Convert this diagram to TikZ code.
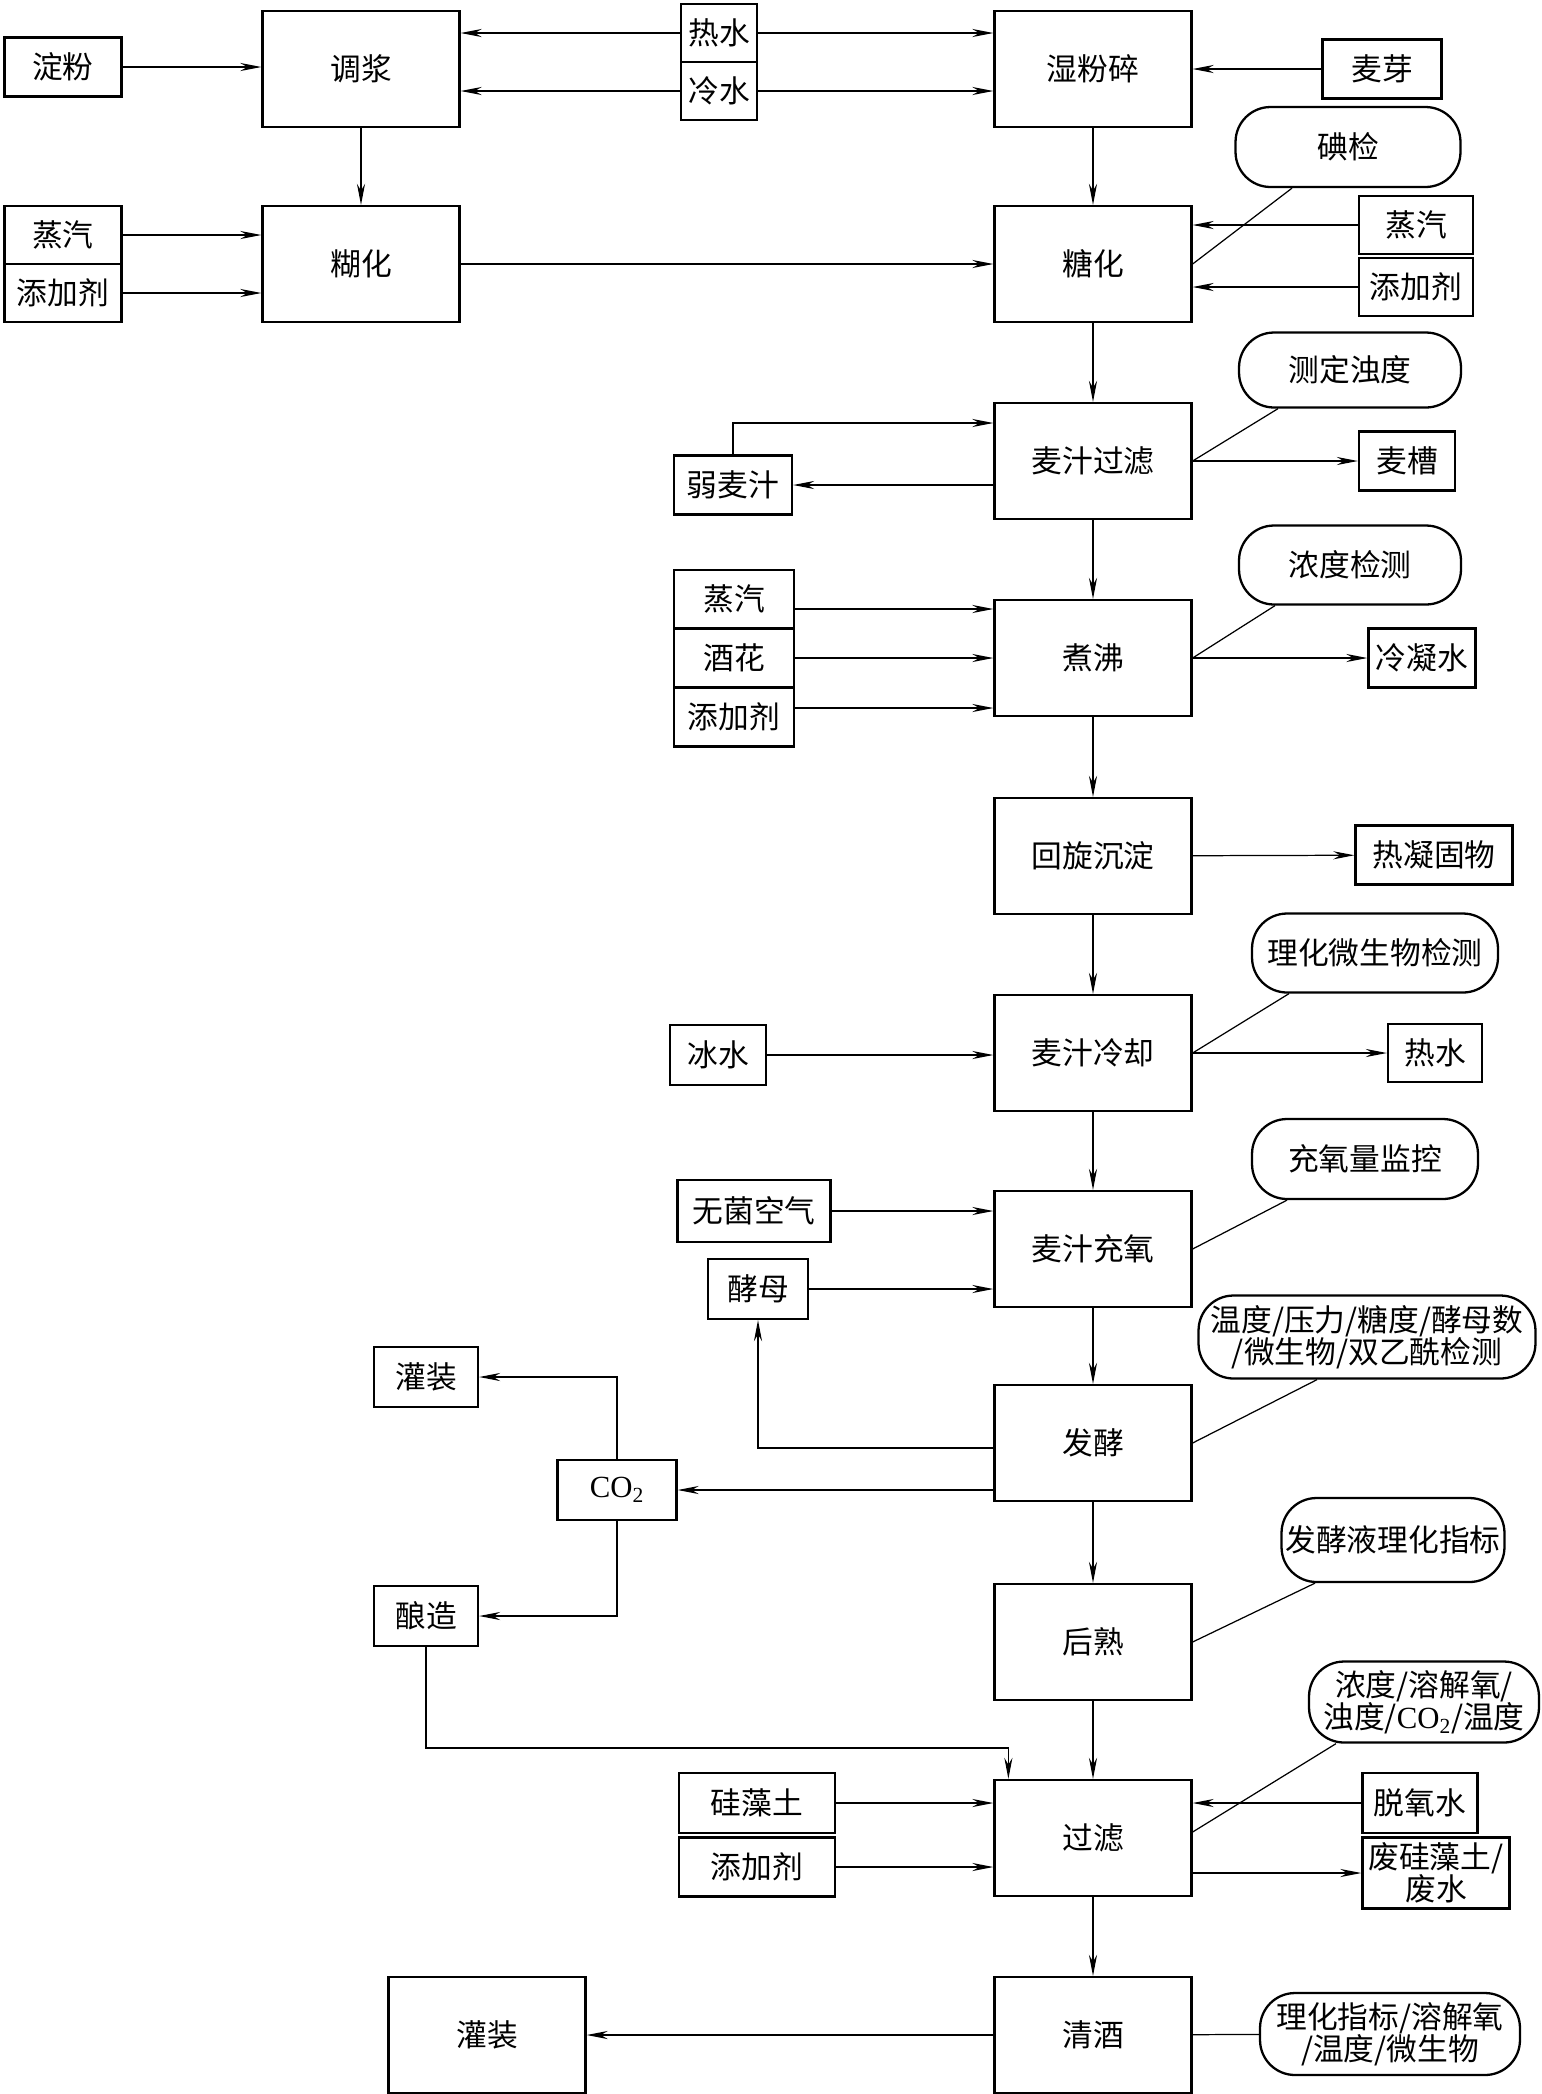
\documentclass[tikz,border=0pt]{standalone}
\usepackage{fontspec}
\setmainfont{Noto Sans CJK SC}
\newfontfamily\latinfont{Liberation Serif}
\usetikzlibrary{arrows.meta,calc}
\newcommand{\cotwo}{{\latinfont CO\textsubscript{2}}}

\begin{document}
\begin{tikzpicture}[
  x=0.02cm, y=-0.02cm,
  >={Stealth[length=12pt,width=4.6pt]},
  proc/.style={rectangle, draw, line width=1.3pt, minimum width=3.94cm, minimum height=2.32cm, font=\fontsize{17.5}{21}\selectfont},
  mat/.style={rectangle, draw, line width=1.3pt, minimum height=1.18cm, inner sep=1pt, align=center, font=\fontsize{17.5}{18}\selectfont},
  chk/.style={rectangle, draw, line width=1.3pt, rounded corners=0.7cm, minimum height=1.6cm, inner sep=0pt, align=center, font=\fontsize{17.5}{18.5}\selectfont},
  arr/.style={->, line width=0.7pt},
  lnk/.style={line width=0.7pt},
]

\useasboundingbox (0,0) rectangle (1542,2094);

\node[proc] (tiaojiang) at (361,69) {调浆};
\node[proc] (huhua) at (361,264) {糊化};
\node[proc] (shifensui) at (1093,69) {湿粉碎};
\node[proc] (tanghua) at (1093,264) {糖化};
\node[proc] (maizhiguolv) at (1093,461) {麦汁过滤};
\node[proc] (zhufei) at (1093,658) {煮沸};
\node[proc] (chendian) at (1093,856) {回旋沉淀};
\node[proc] (lengque) at (1093,1053) {麦汁冷却};
\node[proc] (chongyang) at (1093,1249) {麦汁充氧};
\node[proc] (fajiao) at (1093,1443) {发酵};
\node[proc] (houshu) at (1093,1642) {后熟};
\node[proc] (guolv) at (1093,1838) {过滤};
\node[proc] (qingjiu) at (1093,2035) {清酒};
\node[proc] (guanzhuang) at (487,2035) {灌装};

\node[mat, minimum width=2.34cm] (dianfen) at (63,67) {淀粉};
\node[mat, minimum width=1.52cm, minimum height=1.16cm] (reshui) at (719,33) {热水};
\node[mat, minimum width=1.52cm, minimum height=1.16cm] (lengshui) at (719,91) {冷水};
\node[mat, minimum width=2.38cm] (maiya) at (1382,69) {麦芽};
\node[mat, minimum width=2.34cm, minimum height=1.16cm] (zhengqia) at (63,235) {蒸汽};
\node[mat, minimum width=2.34cm, minimum height=1.16cm] (tianjiaa) at (63,293) {添加剂};
\node[mat, minimum width=2.28cm, minimum height=1.16cm] (zhengqib) at (1416,225) {蒸汽};
\node[mat, minimum width=2.28cm, minimum height=1.16cm] (tianjiab) at (1416,287) {添加剂};
\node[chk, minimum width=4.5cm] (dianjian) at (1348,147) {碘检};

\node[chk, minimum width=4.44cm, minimum height=1.5cm] (ceding) at (1350,370) {测定浊度};
\node[mat, minimum width=1.92cm] (maicao) at (1407,461) {麦槽};
\node[mat, minimum width=2.36cm] (ruomaizhi) at (733,485) {弱麦汁};

\node[chk, minimum width=4.44cm, minimum height=1.58cm] (nongdujc) at (1350,565) {浓度检测};
\node[mat, minimum width=2.14cm] (lengningshui) at (1422,658) {冷凝水};
\node[mat, minimum width=2.4cm, minimum height=1.16cm] (zhengqic) at (734,599) {蒸汽};
\node[mat, minimum width=2.4cm, minimum height=1.18cm] (jiuhua) at (734,658) {酒花};
\node[mat, minimum width=2.4cm, minimum height=1.18cm] (tianjiac) at (734,717) {添加剂};

\node[mat, minimum width=3.14cm] (reninggu) at (1434,855) {热凝固物};

\node[chk, minimum width=4.92cm, minimum height=1.58cm] (lihuawei) at (1375,953) {理化微生物检测};
\node[mat, minimum width=1.88cm, minimum height=1.16cm] (reshuib) at (1435,1053) {热水};
\node[mat, minimum width=1.92cm, minimum height=1.2cm] (bingshui) at (718,1055) {冰水};

\node[chk, minimum width=4.52cm] (chongyangjk) at (1365,1159) {充氧量监控};
\node[mat, minimum width=3.06cm, minimum height=1.24cm] (wujun) at (754,1211) {无菌空气};
\node[mat, minimum width=2cm, minimum height=1.2cm] (jiaomu) at (758,1289) {酵母};

\node[chk, minimum width=6.74cm, minimum height=1.66cm] (wendu) at (1367,1337) {温度/压力/糖度/酵母数\\/微生物/双乙酰检测};
\node[mat, minimum width=2.38cm, minimum height=1.2cm] (co) at (617,1490) {\cotwo};
\node[mat, minimum width=2.08cm, minimum height=1.2cm] (guanzhuangs) at (426,1377) {灌装};
\node[mat, minimum width=2.08cm, minimum height=1.2cm] (niangzao) at (426,1616) {酿造};

\node[chk, minimum width=4.46cm, minimum height=1.68cm] (fajiaoye) at (1393,1540) {发酵液理化指标};

\node[chk, minimum width=4.6cm, minimum height=1.62cm] (nongdu) at (1424,1702) {浓度/溶解氧/\\浊度/\cotwo/温度};
\node[mat, minimum width=2.3cm, minimum height=1.2cm] (tuoyang) at (1420,1803) {脱氧水};
\node[mat, minimum width=2.94cm, minimum height=1.42cm] (feigui) at (1436,1873) {废硅藻土/\\废水};
\node[mat, minimum width=3.12cm, minimum height=1.2cm] (guizaotu) at (757,1803) {硅藻土};
\node[mat, minimum width=3.12cm, minimum height=1.18cm] (tianjiad) at (757,1867) {添加剂};

\node[chk, minimum width=5.2cm, minimum height=1.64cm] (lihuazb) at (1390,2034) {理化指标/溶解氧\\/温度/微生物};

\draw[arr] (dianfen) -- (dianfen -| tiaojiang.west);
\draw[arr] (reshui) -- (reshui -| tiaojiang.east);
\draw[arr] (reshui) -- (reshui -| shifensui.west);
\draw[arr] (lengshui) -- (lengshui -| tiaojiang.east);
\draw[arr] (lengshui) -- (lengshui -| shifensui.west);
\draw[arr] (maiya) -- (maiya -| shifensui.east);
\draw[arr] (tiaojiang) -- (huhua);
\draw[arr] (zhengqia) -- (zhengqia -| huhua.west);
\draw[arr] (tianjiaa) -- (tianjiaa -| huhua.west);
\draw[arr] (huhua) -- (tanghua);
\draw[arr] (shifensui) -- (tanghua);
\draw[lnk] ($(dianjian.south)+(-56,0)$) -- (tanghua.east);
\draw[arr] (zhengqib) -- (zhengqib -| tanghua.east);
\draw[arr] (tianjiab) -- (tianjiab -| tanghua.east);

\draw[arr] (tanghua) -- (maizhiguolv);
\draw[lnk] ($(ceding.south)+(-72,0)$) -- (maizhiguolv.east);
\draw[arr] (maizhiguolv) -- (maicao);
\draw[arr] (ruomaizhi -| maizhiguolv.west) -- (ruomaizhi);
\draw[arr] (ruomaizhi.north) |- ($(maizhiguolv.west)+(0,-38)$);

\draw[arr] (maizhiguolv) -- (zhufei);
\draw[lnk] ($(nongdujc.south)+(-75,0)$) -- (zhufei.east);
\draw[arr] (zhufei) -- (lengningshui);
\draw[arr] ($(zhengqic.east)+(0,10)$) -- ($(zhufei.west)+(0,-49)$);
\draw[arr] (jiuhua) -- (zhufei);
\draw[arr] ($(tianjiac.east)+(0,-9)$) -- ($(zhufei.west)+(0,50)$);

\draw[arr] (zhufei) -- (chendian);
\draw[arr] (chendian) -- (reninggu);

\draw[arr] (chendian) -- (lengque);
\draw[lnk] ($(lihuawei.south)+(-86,0)$) -- (lengque.east);
\draw[arr] (lengque) -- (reshuib);
\draw[arr] (bingshui) -- (bingshui -| lengque.west);

\draw[arr] (lengque) -- (chongyang);
\draw[lnk] ($(chongyangjk.south)+(-78,0)$) -- (chongyang.east);
\draw[arr] (wujun) -- (wujun -| chongyang.west);
\draw[arr] (jiaomu) -- (jiaomu -| chongyang.west);

\draw[arr] (chongyang) -- (fajiao);
\draw[lnk] ($(wendu.south)+(-50,0)$) -- (fajiao.east);
\draw[arr] ($(fajiao.west)+(0,5)$) -| (jiaomu.south);
\draw[arr] (co -| fajiao.west) -- (co);
\draw[arr] (co.north) |- (guanzhuangs.east);
\draw[arr] (co.south) |- (niangzao.east);
\draw[arr] (niangzao.south) |- ($(guolv.north west)+(15,-31)$) -- ($(guolv.north west)+(15,0)$);

\draw[arr] (fajiao) -- (houshu);
\draw[lnk] ($(fajiaoye.south)+(-78,0)$) -- (houshu.east);

\draw[arr] (houshu) -- (guolv);
\draw[lnk] ($(nongdu.south)+(-88,0)$) -- ($(guolv.east)+(0,-6)$);
\draw[arr] (tuoyang) -- (tuoyang -| guolv.east);
\draw[arr] (feigui -| guolv.east) -- (feigui);
\draw[arr] (guizaotu) -- (guizaotu -| guolv.west);
\draw[arr] (tianjiad) -- (tianjiad -| guolv.west);

\draw[arr] (guolv) -- (qingjiu);
\draw[lnk] (qingjiu) -- (lihuazb);
\draw[arr] (qingjiu) -- (guanzhuang);

\end{tikzpicture}
\end{document}
